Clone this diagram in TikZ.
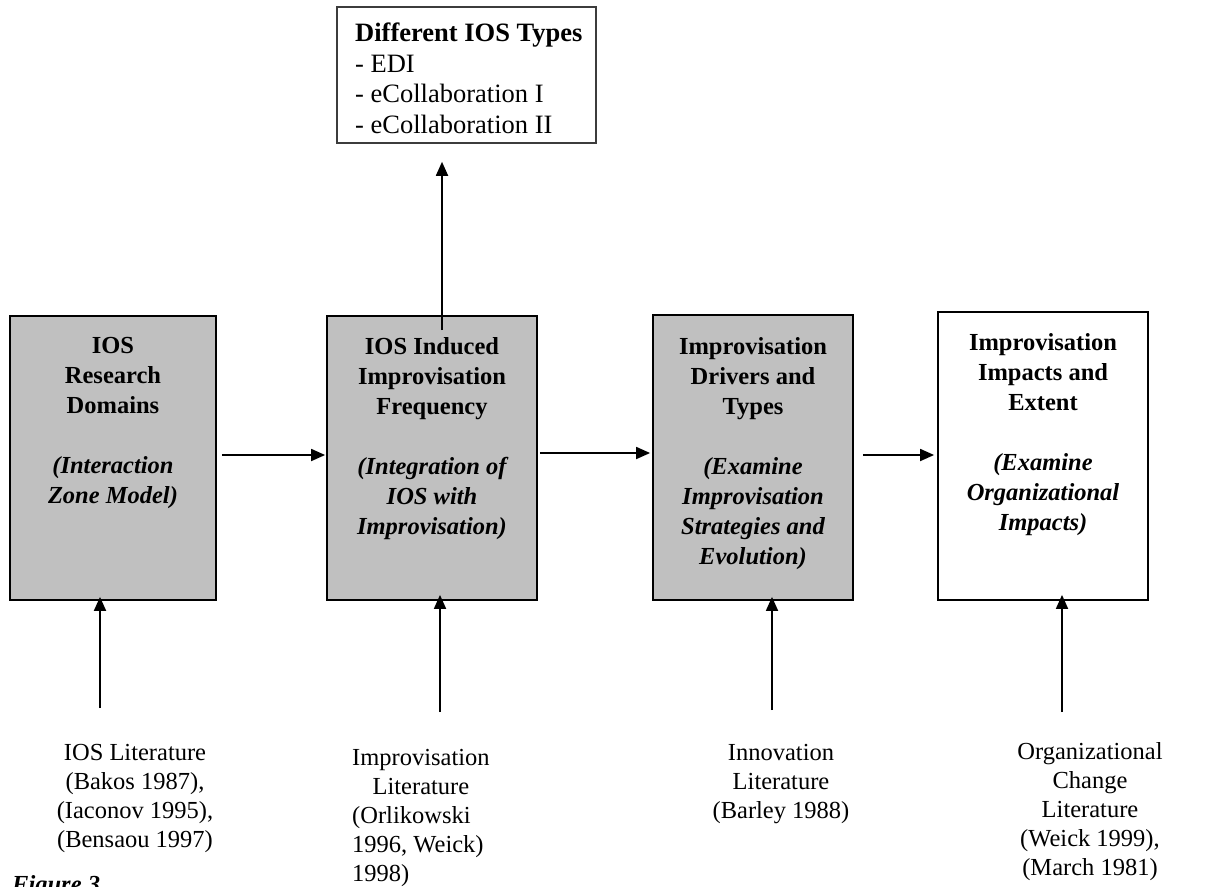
\documentclass[tikz,border=0pt]{standalone}
\usepackage{fontspec}
\setmainfont{Liberation Serif}
\usetikzlibrary{arrows.meta}
\definecolor{boxgrey}{RGB}{192,192,192}
\definecolor{typeedge}{RGB}{60,60,60}
\begin{document}
\begin{tikzpicture}[x=1pt,y=-1pt,
  greybox/.style={draw=black, line width=1.8pt, fill=boxgrey, rectangle, inner sep=0pt},
  whitebox/.style={draw=black, line width=1.8pt, fill=white, rectangle, inner sep=0pt},
  typebox/.style={draw=typeedge, line width=1.6pt, fill=white, rectangle, inner sep=0pt},
  boxtext/.style={anchor=north, inner sep=0pt, align=center, font=\fontsize{24.5}{30}\selectfont\bfseries},
  littext/.style={anchor=north, inner sep=0pt, align=center, font=\fontsize{24.5}{29}\selectfont},
  flow/.style={-{Triangle[length=14pt,width=12pt]}, line width=1.8pt}
]
\clip (0,0) rectangle (1217,886);
\fill[white] (0,0) rectangle (1217,886);

% the four stages
\node[greybox,  minimum width=206pt, minimum height=284pt] (b1) at (113,458) {};
\node[greybox,  minimum width=210pt, minimum height=284pt] (b2) at (432,458) {};
\node[greybox,  minimum width=200pt, minimum height=285pt] (b3) at (753,457.5) {};
\node[whitebox, minimum width=210pt, minimum height=288pt] (b4) at (1043,456) {};

\node[boxtext] (t1) at (b1.north |- 0,337) {IOS\\Research\\Domains\\[30pt]\itshape(Interaction\\\itshape Zone Model)};
\node[boxtext] (t2) at (b2.north |- 0,337) {IOS Induced\\Improvisation\\Frequency\\[30pt]\itshape(Integration of\\\itshape IOS with\\\itshape Improvisation)};
\node[boxtext] (t3) at (b3.north |- 0,337) {Improvisation\\Drivers and\\Types\\[30pt]\itshape(Examine\\\itshape Improvisation\\\itshape Strategies and\\\itshape Evolution)};
\node[boxtext] (t4) at (b4.north |- 0,333) {Improvisation\\Impacts and\\Extent\\[30pt]\itshape(Examine\\\itshape Organizational\\\itshape Impacts)};

% IOS types
\node[typebox, minimum width=259pt, minimum height=136pt] (top) at (466.5,75) {};
\node[anchor=north west, inner sep=0pt, align=left, font=\fontsize{26.5}{30.5}\selectfont] (tt) at (355,23)
  {\textbf{Different IOS Types}\\- EDI\\- eCollaboration I\\- eCollaboration II};

% literature sources
\node[littext] (l1) at (135,744) {IOS Literature\\(Bakos 1987),\\(Iaconov 1995),\\(Bensaou 1997)};
\node[anchor=north west, inner sep=0pt, align=left, font=\fontsize{24.5}{29}\selectfont] (l2) at (352,749)
  {Improvisation\\\hspace*{0.834em}Literature\\(Orlikowski\\1996, Weick)\\1998)};
\node[littext] (l3) at (781,744) {Innovation\\Literature\\(Barley 1988)};
\node[littext] (l4) at (1090,742) {Organizational\\Change\\Literature\\(Weick 1999),\\(March 1981)};

\node[anchor=north west, inner sep=0pt, font=\fontsize{24.5}{29}\selectfont\bfseries\itshape] (fig) at (12,875) {Figure 3};

% flow between stages
\draw[flow] ([xshift=5pt]b1.east |- 0,455) -- ([xshift=-1pt]b2.west |- 0,455);
\draw[flow] ([xshift=2pt]b2.east |- 0,453) -- ([xshift=-2pt]b3.west |- 0,453);
\draw[flow] ([xshift=9pt]b3.east |- 0,455) -- ([xshift=-3pt]b4.west |- 0,455);
\draw[flow] ([yshift=-15pt]b2.north -| 442,0) -- ([yshift=-18pt]top.south -| 442,0);

% literature feeding each stage
\coordinate (s1) at (100,708);
\coordinate (s2) at (440,712);
\coordinate (s3) at (772,710);
\coordinate (s4) at (1062,712);
\draw[flow] (s1) -- ([yshift=4pt]b1.south -| s1);
\draw[flow] (s2) -- ([yshift=6pt]b2.south -| s2);
\draw[flow] (s3) -- ([yshift=4pt]b3.south -| s3);
\draw[flow] (s4) -- ([yshift=6pt]b4.south -| s4);
\end{tikzpicture}
\end{document}
